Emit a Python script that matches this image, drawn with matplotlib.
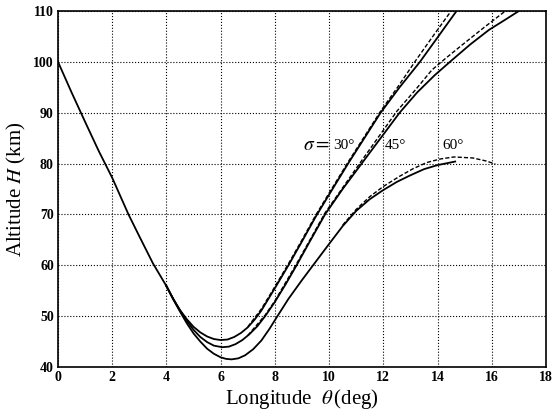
import matplotlib
matplotlib.use("Agg")
import matplotlib.pyplot as plt

# shared descending branch (all three cases coincide)
x_common = [0, 0.5, 1, 1.5, 2, 2.6, 3, 3.5, 4]
h_common = [100, 94.0, 88.2, 82.5, 77.2, 70.0, 65.7, 60.4, 55.9]

# sigma = 30 deg
x_30 = [4, 4.25, 4.5, 4.75, 5, 5.25, 5.5, 5.75, 6, 6.25, 6.5, 6.75, 7, 7.25, 7.5, 8, 8.5, 9, 9.5, 10,
        10.7, 11.3, 11.9, 12.6, 13.35, 14, 14.7]
h_30 = [55.9, 53.4, 51.2, 49.4, 47.9, 46.8, 46.0, 45.5, 45.3, 45.4, 45.9, 46.7, 47.8, 49.3, 51.1, 55.5,
        60.0, 64.7, 69.5, 73.9, 80.0, 85.0, 90.0, 95.0, 100.0, 104.8, 110.0]
x_30d = [7, 7.5, 8, 8.5, 9, 9.5, 10, 10.7, 11.3, 11.9, 12.55, 13.2, 13.85, 14.5]
h_30d = [47.9, 51.4, 55.8, 60.3, 65.0, 69.8, 74.2, 80.3, 85.3, 90.3, 95.2, 100.3, 105.2, 110.0]

# sigma = 45 deg
x_45 = [4, 4.25, 4.5, 4.75, 5, 5.25, 5.5, 5.75, 6.05, 6.3, 6.55, 6.8, 7.05, 7.35, 7.64, 8, 8.4, 8.8,
        9.3, 9.85, 10.5, 11.2, 11.9, 12.6, 13.25, 13.9, 14.5, 15.2, 15.9, 16.5, 17.0]
h_45 = [55.9, 53.4, 51.1, 49.1, 47.3, 45.9, 44.9, 44.2, 43.9, 44.0, 44.5, 45.3, 46.4, 48.0, 50.0, 52.8,
        56.3, 60.0, 64.8, 70.0, 75.0, 80.0, 85.0, 90.0, 94.0, 97.4, 100.2, 103.4, 106.3, 108.3, 110.0]
x_45d = [7, 7.64, 8, 8.8, 9.85, 11.15, 12.5, 13.2, 13.79, 14.3, 14.9, 15.7, 16.5]
h_45d = [46.2, 50.2, 53.0, 60.3, 70.3, 80.2, 90.3, 94.6, 98.4, 100.7, 103.3, 106.7, 110.0]

# sigma = 60 deg
x_60 = [4, 4.25, 4.5, 4.75, 5, 5.25, 5.5, 5.75, 6, 6.2, 6.4, 6.65, 6.9, 7.2, 7.5, 7.8, 8.07, 8.5, 9,
        9.45, 10, 10.5, 11, 11.5, 12, 12.5, 13, 13.5, 14, 14.65]
h_60 = [55.9, 53.3, 50.9, 48.6, 46.6, 45.0, 43.6, 42.6, 41.9, 41.6, 41.5, 41.7, 42.3, 43.5, 45.2, 47.5,
        49.8, 53.4, 57.1, 60.3, 64.2, 67.7, 70.7, 73.0, 74.8, 76.4, 77.7, 78.9, 79.7, 80.4]
x_60d = [10.5, 11, 11.5, 12, 12.6, 13.1, 13.6, 14.1, 14.6, 15.3, 15.8, 16.13]
h_60d = [67.9, 71.0, 73.5, 75.5, 77.5, 79.0, 80.2, 80.9, 81.3, 81.1, 80.5, 79.9]

labels = ["30°", "45°", "60°"]
label_x = [10.15, 12.07, 14.17]
label_y = 83.6

plt.rcParams["font.family"] = "serif"
plt.rcParams["font.serif"] = ["Liberation Serif", "DejaVu Serif"]
plt.rcParams["mathtext.fontset"] = "stix"

fig = plt.figure(figsize=(5.55, 4.18), dpi=100)
ax = fig.add_axes([0.1045, 0.122, 0.8793, 0.8517])

lw = 1.3
ax.plot(x_common, h_common, color="black", lw=lw)
for xs, hs in [(x_30, h_30), (x_45, h_45), (x_60, h_60)]:
    ax.plot(xs, hs, color="black", lw=lw)
for xs, hs in [(x_30d, h_30d), (x_45d, h_45d), (x_60d, h_60d)]:
    ax.plot(xs, hs, color="black", lw=1.0, ls=(0, (3, 1.5)))

ax.text(9.04, label_y, r"$\sigma =$", fontsize=14, va="center", ha="left")
for lx, lab in zip(label_x, labels):
    ax.text(lx, label_y, lab, fontsize=11, va="center", ha="left")

ax.set_xlim(0, 18)
ax.set_ylim(40, 110)
ax.set_xticks(range(0, 19, 2))
ax.set_yticks(range(40, 111, 10))
ax.grid(True, color="black", ls=":", lw=0.8)
ax.tick_params(length=0, labelsize=10, pad=3)
for lab in ax.get_xticklabels() + ax.get_yticklabels():
    lab.set_fontweight("bold")
for sp in ax.spines.values():
    sp.set_linewidth(1.2)

ax.set_xlabel(r"Longitude  $\theta\,$(deg)", fontsize=15, labelpad=2)
ax.set_ylabel(r"Altitude $H$ (km)", fontsize=15, labelpad=4)

fig.savefig("out.png", dpi=100)
